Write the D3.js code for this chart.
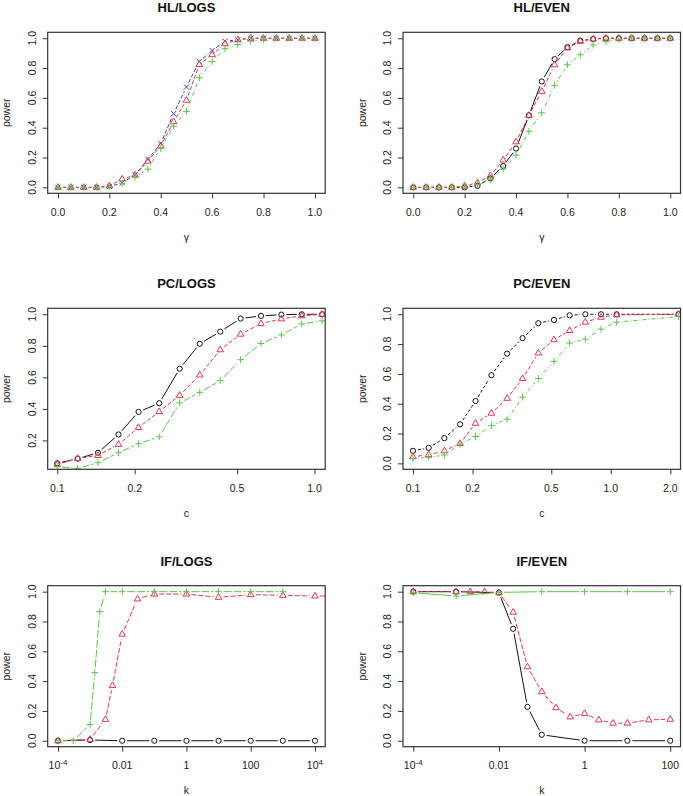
<!DOCTYPE html>
<html>
<head>
<meta charset="utf-8">
<script src="https://cdn.jsdelivr.net/npm/d3@7"></script>
<style>
  body { margin: 0; background: #fff; }
  svg { display: block; }
  text { font-family: "Liberation Sans", Arial, Helvetica, sans-serif; }
</style>
</head>
<body>
<svg id="chart" width="683" height="796"></svg>
<script>
// ---- data ----
const hlGamma = [0, 0.05, 0.1, 0.15, 0.2, 0.25, 0.3, 0.35, 0.4, 0.45, 0.5, 0.55, 0.6, 0.65, 0.7, 0.75, 0.8, 0.85, 0.9, 0.95, 1.0];
const hlLogsBlue  = [0, 0, 0, 0, 0.005, 0.03, 0.085, 0.187, 0.294, 0.494, 0.673, 0.844, 0.918, 0.98, 0.99, 1, 1, 1, 1, 1, 1];
const hlLogsRed   = [0, 0, 0, 0, 0.01, 0.056, 0.082, 0.176, 0.278, 0.44, 0.584, 0.824, 0.89, 0.963, 0.99, 1, 1, 1, 1, 1, 1];
const hlLogsGreen = [0, 0, 0, 0, 0.005, 0.027, 0.067, 0.122, 0.26, 0.41, 0.51, 0.735, 0.844, 0.93, 0.958, 0.98, 0.993, 1, 1, 1, 1];
const hlEvenBlack = [0, 0, 0, 0, 0, 0.01, 0.06, 0.143, 0.26, 0.483, 0.71, 0.86, 0.94, 0.984, 0.995, 1, 1, 1, 1, 1, 1];
const hlEvenRed   = [0, 0, 0, 0, 0.01, 0.03, 0.078, 0.183, 0.305, 0.483, 0.644, 0.822, 0.935, 0.98, 0.995, 1, 1, 1, 1, 1, 1];
const hlEvenGreen = [0, 0, 0, 0, 0.005, 0.02, 0.053, 0.122, 0.216, 0.376, 0.5, 0.684, 0.822, 0.889, 0.955, 0.978, 0.993, 1, 1, 1, 1];

const pcLogsC     = [0.1, 0.12, 0.144, 0.173, 0.207, 0.249, 0.299, 0.358, 0.43, 0.516, 0.619, 0.743, 0.892, 1.07];
const pcLogsBlack = [0.055, 0.084, 0.122, 0.238, 0.381, 0.436, 0.655, 0.813, 0.89, 0.973, 0.99, 0.998, 1, 1];
const pcLogsRed   = [0.048, 0.086, 0.105, 0.175, 0.282, 0.383, 0.486, 0.615, 0.775, 0.874, 0.941, 0.971, 0.99, 1];
const pcLogsGreen = [0.034, 0.023, 0.059, 0.122, 0.179, 0.223, 0.438, 0.505, 0.579, 0.712, 0.815, 0.869, 0.939, 0.958];
const pcEvenC     = [0.1, 0.12, 0.144, 0.173, 0.207, 0.249, 0.299, 0.358, 0.43, 0.516, 0.619, 0.743, 0.892, 1.07, 2.2];
const pcEvenBlack = [0.084, 0.104, 0.169, 0.262, 0.418, 0.591, 0.736, 0.84, 0.94, 0.962, 0.993, 1, 1, 1, 1];
const pcEvenRed   = [0.044, 0.058, 0.084, 0.133, 0.269, 0.336, 0.436, 0.569, 0.74, 0.829, 0.891, 0.947, 0.98, 0.996, 1];
const pcEvenGreen = [0.033, 0.04, 0.056, 0.129, 0.18, 0.253, 0.296, 0.444, 0.569, 0.684, 0.807, 0.833, 0.9, 0.947, 0.984];

const ifLogsBlackK = [1e-4, 1e-3, 1e-2, 0.1, 1, 10, 100, 1000, 1e4];
const ifLogsBlack  = [0, 0.005, 0, 0, 0, 0, 0, 0, 0];
const ifLogsRedK   = [1e-4, 1e-3, 3e-3, 5e-3, 1e-2, 3e-2, 0.1, 1, 10, 100, 1000, 1e4, 1e5];
const ifLogsRed    = [0, 0.009, 0.143, 0.37, 0.715, 0.951, 0.984, 0.984, 0.962, 0.98, 0.975, 0.971, 0.97];
const ifLogsGreenK = [1e-4, 3e-4, 1e-3, 1.4e-3, 2e-3, 3e-3, 1e-2, 0.1, 1, 10, 100, 1000];
const ifLogsGreen  = [0, 0, 0.109, 0.457, 0.866, 1, 1, 1, 1, 1, 1, 1];
const ifEvenBlackK = [1e-4, 1e-3, 1e-2, 0.0215, 0.0464, 0.1, 1, 10, 100];
const ifEvenBlack  = [1, 1, 0.993, 0.751, 0.227, 0.04, 0, 0, 0];
const ifEvenRedK   = [1e-4, 1e-3, 0.00215, 0.00464, 0.01, 0.0215, 0.0464, 0.1, 0.215, 0.464, 1, 2.15, 4.64, 10, 31.6, 100];
const ifEvenRed    = [1, 1, 1, 1, 0.993, 0.862, 0.496, 0.329, 0.222, 0.16, 0.182, 0.14, 0.118, 0.118, 0.14, 0.144];
const ifEvenGreenK = [1e-4, 1e-3, 1e-2, 0.1, 1, 10, 100];
const ifEvenGreen  = [0.993, 0.971, 0.995, 1, 1, 1, 1];

const powerTicks = [0, 0.2, 0.4, 0.6, 0.8, 1.0];
const pcTicksLogs = [0.1, 0.2, 0.5, 1.0];
const pcTicksEven = [0.1, 0.2, 0.5, 1.0, 2.0];
const ifTicksLogs = [1e-4, 1e-2, 1, 100, 1e4];
const ifTicksEven = [1e-4, 1e-2, 1, 100];

// ---- layout ----
const chart = d3.select("#chart");
const boxW = 277.5;
const boxH = 161;
const colLeft = [47.7, 403];
const rowTop = [32.3, 308.3, 585.7];
const axisColor = "#333";
const black = "#111", red = "#DF3A4A", green = "#5DC249", blue = "#2E45B8";
const gap = 5;

const fmt1 = d3.format(".1f");
function ifFormat(v) {
    const e = Math.round(Math.log10(v));
    if (e === -4 || e === 4) return { base: "10", sup: e === -4 ? "-4" : "4" };
    if (e === -2) return { base: "0.01" };
    return { base: String(v) };
}

const panels = [
    { title: "HL/LOGS", xlab: "\u03b3", col: 0, row: 0, log: false, xdom: [-0.04, 1.04], ydom: [-0.04, 1.04],
      xticks: powerTicks, yticks: powerTicks, xfmt: fmt1,
      series: [
        { x: hlGamma, y: hlLogsBlue, color: blue, dash: "4,2", sym: "x" },
        { x: hlGamma, y: hlLogsRed, color: red, dash: "4,2", sym: "tri" },
        { x: hlGamma, y: hlLogsGreen, color: green, dash: "1,2,4,2", sym: "plus" }] },
    { title: "HL/EVEN", xlab: "\u03b3", col: 1, row: 0, log: false, xdom: [-0.04, 1.04], ydom: [-0.04, 1.04],
      xticks: powerTicks, yticks: powerTicks, xfmt: fmt1,
      series: [
        { x: hlGamma, y: hlEvenBlack, color: black, dash: null, sym: "circle" },
        { x: hlGamma, y: hlEvenRed, color: red, dash: "4,2", sym: "tri" },
        { x: hlGamma, y: hlEvenGreen, color: green, dash: "1,2,4,2", sym: "plus" }] },
    { title: "PC/LOGS", xlab: "c", col: 0, row: 1, log: true, xdom: [0.0918, 1.1], ydom: [0.017, 1.038],
      xticks: pcTicksLogs, yticks: [0.2, 0.4, 0.6, 0.8, 1.0], xfmt: fmt1,
      series: [
        { x: pcLogsC, y: pcLogsBlack, color: black, dash: null, sym: "circle" },
        { x: pcLogsC, y: pcLogsRed, color: red, dash: "4,2", sym: "tri" },
        { x: pcLogsC, y: pcLogsGreen, color: green, dash: "7,2", sym: "plus" }] },
    { title: "PC/EVEN", xlab: "c", col: 1, row: 1, log: true, xdom: [0.089, 2.25], ydom: [-0.04, 1.04],
      xticks: pcTicksEven, yticks: powerTicks, xfmt: fmt1,
      series: [
        { x: pcEvenC, y: pcEvenBlack, color: black, dash: "3,2", sym: "circle" },
        { x: pcEvenC, y: pcEvenRed, color: red, dash: "4,2", sym: "tri" },
        { x: pcEvenC, y: pcEvenGreen, color: green, dash: "1,2,4,2", sym: "plus" }] },
    { title: "IF/LOGS", xlab: "k", col: 0, row: 2, log: true, xdom: [Math.pow(10, -4.32), Math.pow(10, 4.32)], ydom: [-0.04, 1.04],
      xticks: ifTicksLogs, yticks: powerTicks, xfmt: null,
      series: [
        { x: ifLogsBlackK, y: ifLogsBlack, color: black, dash: null, sym: "circle" },
        { x: ifLogsRedK, y: ifLogsRed, color: red, dash: "5,2", sym: "tri" },
        { x: ifLogsGreenK, y: ifLogsGreen, color: green, dash: "8,2", sym: "plus" }] },
    { title: "IF/EVEN", xlab: "k", col: 1, row: 2, log: true, xdom: [Math.pow(10, -4.24), Math.pow(10, 2.24)], ydom: [-0.04, 1.04],
      xticks: ifTicksEven, yticks: powerTicks, xfmt: null,
      series: [
        { x: ifEvenBlackK, y: ifEvenBlack, color: black, dash: null, sym: "circle" },
        { x: ifEvenRedK, y: ifEvenRed, color: red, dash: "5,2", sym: "tri" },
        { x: ifEvenGreenK, y: ifEvenGreen, color: green, dash: null, sym: "plus" }] }
];

const symbolPath = {
    plus: "M-3.4,0H3.4M0,-3.4V3.4",
    x: "M-2.6,-2.6L2.6,2.6M-2.6,2.6L2.6,-2.6",
    tri: "M0,-3.7L3.3,2.0L-3.3,2.0Z"
};

panels.forEach((p, idx) => createPanel(p, idx));

function createPanel(p, idx) {
    const left = colLeft[p.col];
    const top = rowTop[p.row];
    const g = chart.append("g").attr("transform", "translate(" + left + "," + top + ")");

    const x = (p.log ? d3.scaleLog() : d3.scaleLinear()).domain(p.xdom).range([0, boxW]);
    const y = d3.scaleLinear().domain(p.ydom).range([boxH, 0]);

    // clip to plot region like R does
    chart.append("clipPath").attr("id", "clip" + idx)
        .append("rect").attr("width", boxW).attr("height", boxH);
    const plot = g.append("g").attr("clip-path", "url(#clip" + idx + ")");

    p.series.forEach(s => {
        const pts = s.x.map((v, i) => [x(v), y(s.y[i])]);
        // type="b": segments with a gap round each point
        const segs = d3.pairs(pts).map(([a, b]) => {
            const dx = b[0] - a[0], dy = b[1] - a[1];
            const d = Math.hypot(dx, dy);
            if (d <= 2 * gap) return null;
            const ux = dx / d, uy = dy / d;
            return [a[0] + ux * gap, a[1] + uy * gap, b[0] - ux * gap, b[1] - uy * gap];
        }).filter(d => d);

        plot.append("g").selectAll("line")
            .data(segs)
            .enter()
            .append("line")
            .attr("x1", d => d[0]).attr("y1", d => d[1])
            .attr("x2", d => d[2]).attr("y2", d => d[3])
            .attr("stroke", s.color)
            .attr("stroke-width", 1)
            .attr("stroke-dasharray", s.dash);

        const marks = plot.append("g").selectAll(".pt")
            .data(pts)
            .enter();
        if (s.sym === "circle") {
            marks.append("circle")
                .attr("cx", d => d[0]).attr("cy", d => d[1])
                .attr("r", 2.6)
                .attr("fill", "none")
                .attr("stroke", s.color)
                .attr("stroke-width", 1);
        } else {
            marks.append("path")
                .attr("d", symbolPath[s.sym])
                .attr("transform", d => "translate(" + d[0] + "," + d[1] + ")")
                .attr("fill", "none")
                .attr("stroke", s.color)
                .attr("stroke-width", 1);
        }
    });

    // box
    g.append("rect")
        .attr("width", boxW)
        .attr("height", boxH)
        .attr("fill", "none")
        .attr("stroke", axisColor)
        .attr("stroke-width", 1.2);

    // x axis
    const xa = g.append("g").attr("transform", "translate(0," + boxH + ")");
    xa.call(d3.axisBottom(x).tickValues(p.xticks).tickSize(5).tickFormat(""));
    xa.select(".domain").remove();
    xa.selectAll("line").attr("stroke", axisColor);
    const xl = xa.selectAll(".lbl")
        .data(p.xticks)
        .enter()
        .append("text")
        .attr("x", d => x(d))
        .attr("y", 22.6)
        .attr("text-anchor", "middle")
        .attr("font-size", "10.5px")
        .attr("fill", "#222");
    if (p.xfmt) {
        xl.text(d => p.xfmt(d));
    } else {
        xl.each(function (d) {
            const f = ifFormat(d);
            const t = d3.select(this);
            t.append("tspan").text(f.base);
            if (f.sup) t.append("tspan").attr("dy", "-4").attr("font-size", "8px").text(f.sup);
        });
    }

    // y axis
    const ya = g.append("g");
    ya.call(d3.axisLeft(y).tickValues(p.yticks).tickSize(5).tickFormat(""));
    ya.select(".domain").remove();
    ya.selectAll("line").attr("stroke", axisColor);
    ya.selectAll(".lbl")
        .data(p.yticks)
        .enter()
        .append("text")
        .attr("transform", d => "translate(" + (-15.4) + "," + y(d) + ") rotate(-90)")
        .attr("dy", "0.36em")
        .attr("text-anchor", "middle")
        .attr("font-size", "10.5px")
        .attr("fill", "#222")
        .text(d => fmt1(d));

    // labels
    g.append("text")
        .attr("x", boxW / 2)
        .attr("y", -20)
        .attr("text-anchor", "middle")
        .attr("font-size", "13px")
        .attr("font-weight", "bold")
        .attr("fill", "#111")
        .text(p.title);
    g.append("text")
        .attr("x", boxW / 2)
        .attr("y", boxH + 47.5)
        .attr("text-anchor", "middle")
        .attr("font-size", "10.5px")
        .attr("fill", "#222")
        .text(p.xlab);
    g.append("text")
        .attr("transform", "translate(-40.5," + (boxH / 2) + ") rotate(-90)")
        .attr("dy", "0.3em")
        .attr("text-anchor", "middle")
        .attr("font-size", "10.5px")
        .attr("fill", "#222")
        .text("power");
}
</script>
</body>
</html>
